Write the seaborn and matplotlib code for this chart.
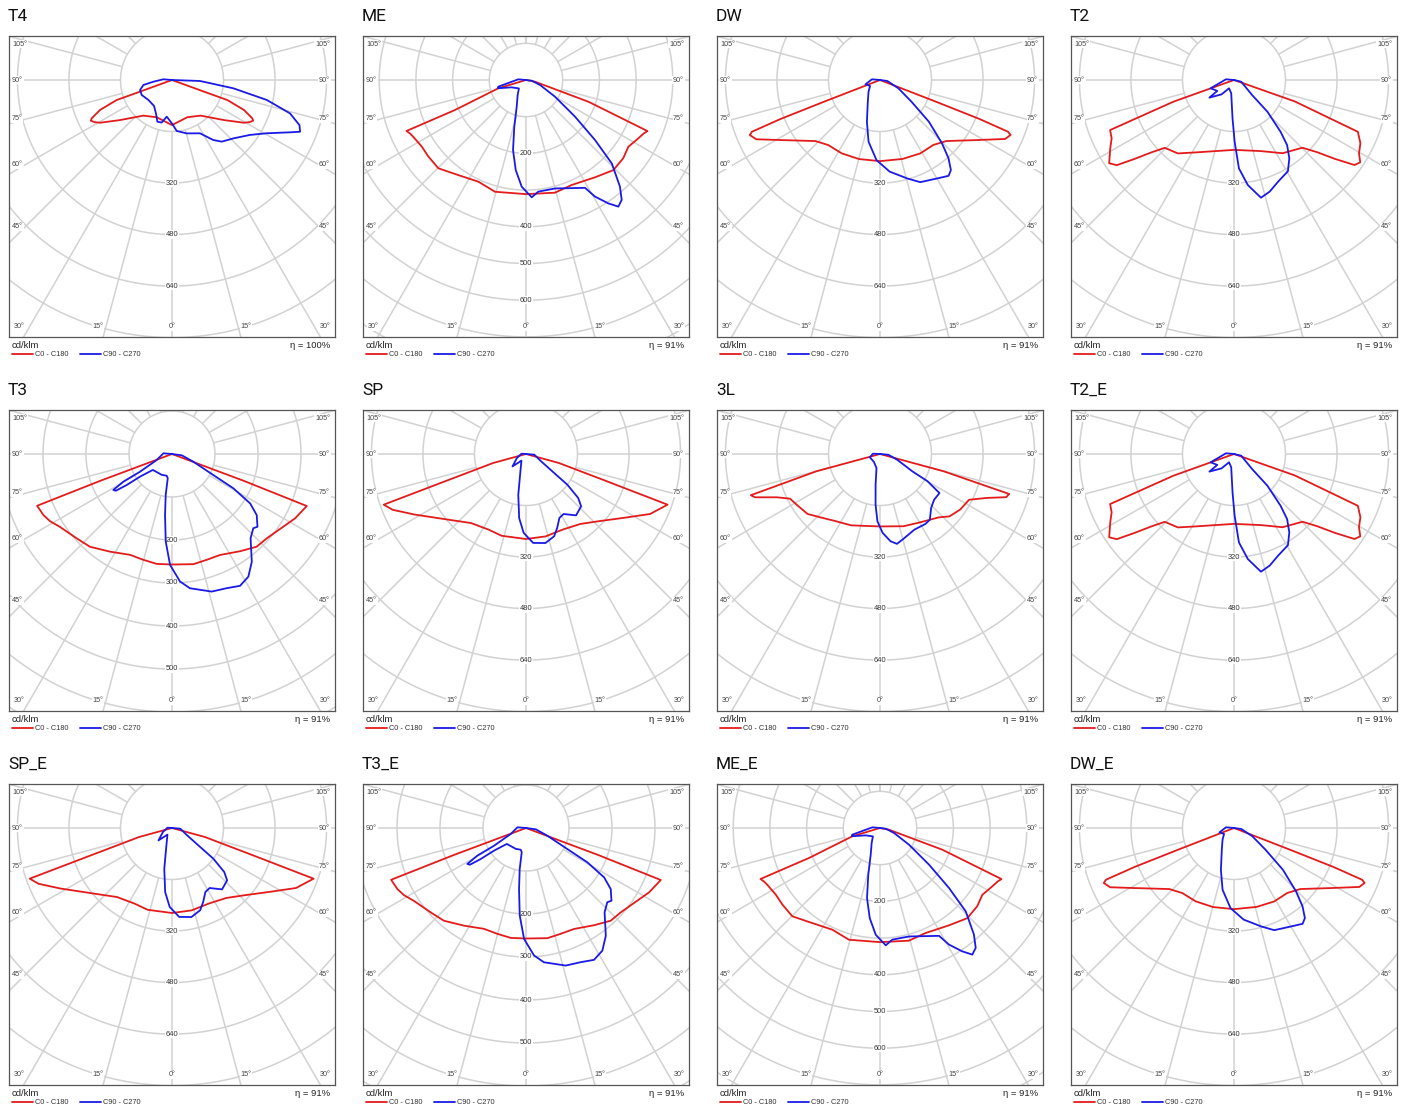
import numpy as np
import pandas as pd
import matplotlib
matplotlib.use("Agg")
import matplotlib.pyplot as plt
from matplotlib.lines import Line2D
import seaborn as sns

sns.set_style("white")
plt.rcParams['font.family'] = ['Liberation Sans', 'DejaVu Sans']

# ---- photometric data: gamma angle (deg, negative = left side) and cd/klm ----
# T4
t4_red_g = [-90, -70.0, -70.1, -67.4, -64.5, -63.4, -61.5, -59.3, -52.4, -38.8, -22.3, 0, 22.3, 38.8, 52.4, 59.3,
            61.5, 63.4, 64.5, 67.4, 70.1, 70.0, 90]
t4_red_i = [0, 106, 183, 242, 276, 282, 274, 260, 204, 142, 125, 140, 125, 142, 204, 260, 274, 282, 276, 242, 183,
            106, 0]
t4_blue_g = [90, 88, 82.3, 78.1, 74.2, 70.5, 68.0, 66.1, 60.6, 54.8, 46.4, 38.9, 34.5, 27.7, 15.4, 5.3, 0, -8.2,
             -13.6, -19.4, -25.7, -34.7, -49.8, -63.7, -72.6, -80.1, -84.8, -94.6, -95]
t4_blue_i = [0, 87, 192, 301, 381, 420, 429, 401, 337, 296, 263, 246, 226, 187, 172, 159, 135, 115,
             136, 137, 115, 98, 96, 105, 104, 90, 58, 27, 0]

# ME / ME_E
me_red_g = [-90, -73.3, -67.1, -66.9, -65.2, -63.3, -57.4, -51.9, -44.8, -37.1, -25.1, -15.5, 0, 14.4, 23.5, 35.3,
            44.1, 51.2, 56.9, 62.6, 65.5, 67.2, 70.8, 79.3, 90]
me_red_i = [0, 79, 210, 354, 348, 344, 337, 338, 339, 321, 306, 316, 311, 317, 312, 325, 342, 340, 333, 345, 352,
            359, 180, 25, 0]
me_blue_g = [-90, -95, -76.4, -73.7, -62.9, -40.1, -29, -19.2, -14.1, -10.5, -6.5, -2.3, 2.8, 6.3, 15, 28.7, 30.6,
             33.7, 36.1, 38.6, 41.4, 45.8, 49, 53.2, 60.1, 70.3, 83, 90]
me_blue_i = [0, 21, 78, 80, 44, 30, 47, 77, 131, 194, 247, 291, 320, 306, 306, 335, 369, 404, 427, 418, 387, 326,
             249, 167, 91, 41, 16, 0]

# DW / DW_E
dw_red_g = [-90, -68.8, -68.6, -68, -67.1, -64.4, -58.9, -46.6, -38.4, -27.6, -14.9, 0, 16, 28.7, 39.4, 47.4, 58.2,
            64.8, 67.2, 68, 68.6, 68.8, 90]
dw_red_i = [0, 186, 332, 429, 439, 426, 361, 276, 258, 257, 254, 252, 255, 260, 261, 280, 354, 430, 440, 429, 332, 186, 0]
dw_blue_g = [-90, -95, -73.4, -59, -44.3, -29.4, -17.4, -10.5, -2.5, 6, 15.4, 21.5, 30.4, 35.6, 38.2, 41.2, 44.4,
             49.5, 55.4, 65.6, 82.3, 90]
dw_blue_i = [0, 25, 47, 36, 51, 77, 136, 195, 249, 286, 317, 341, 354, 366, 356, 323, 275, 200, 119, 63, 23, 0]

# T2 / T2_E
t2_red_g = [-90, -70.3, -68, -64.5, -61.1, -56.3, -54, -51.6, -48.7, -45.6, -37.4, -28.1, 0, 20.7, 33.6, 45.3, 49.1,
            52, 54.8, 56.9, 59.6, 63.4, 67.3, 70.6, 90]
t2_red_i = [0, 200, 415, 421, 439, 466, 450, 395, 340, 301, 287, 255, 217, 236, 273, 299, 343, 398, 458, 468, 450,
            439, 417, 200, 0]
t2_blue_g = [-90, -95, -70.5, -56.8, -54.4, -40.9, -31, -11.9, -2.2, 0.6, 3.2, 7.5, 12.9, 17.7, 23.5, 30.6, 35.2,
             39.2, 42, 46.5, 50.3, 76.7, 90]
t2_blue_i = [0, 25, 77, 62, 94, 59, 30, 42, 119, 192, 275, 329, 375, 364, 344, 329, 298, 261, 216, 143, 73, 23, 0]

# T3 / T3_E
t3_red_g = [-90, -69.5, -69, -64.6, -61.2, -57, -48.5, -41.5, -32.4, -22.6, -15.1, -7.9, 0, 11, 18.1, 25.4, 35,
            42.4, 48.3, 56.8, 62.4, 68.9, 69.5, 90]
t3_red_i = [0, 179, 336, 331, 324, 311, 296, 288, 269, 254, 255, 258, 257, 261, 259, 260, 276, 292, 295, 309, 323,
            336, 179, 0]
t3_blue_g = [-90, -94.6, -68.6, -61, -60.4, -58.5, -56.8, -55.6, -54.7, -50.3, -26.1, -13.7, -10, -8.7, -6.5, -4.1,
             -1, 3.6, 7.6, 16.1, 22.2, 27.3, 31.9, 36.5, 43, 47.6, 49.6, 54.2, 57.7, 60.8, 63, 70.1, 82.4, 90]
t3_blue_i = [0, 20, 38, 85, 130, 160, 156, 128, 91, 58, 54, 52, 57, 97, 143, 204, 258, 297, 315, 333, 337, 345,
             336, 312, 268, 256, 261, 243, 215, 163, 108, 53, 23, 0]

# SP / SP_E
sp_red_g = [-90, -74.7, -71.5, -70.4, -67.3, -61.5, -49.4, -38.5, -26.3, -16.6, 0, 13.3, 26, 37.8, 46.9, 56.9,
            64.2, 70.3, 71.5, 74.7, 90]
sp_red_i = [0, 106, 251, 469, 449, 394, 314, 274, 262, 265, 264, 263, 261, 275, 306, 363, 428, 467, 251, 106, 0]
sp_blue_g = [-90, -94, -66, -47.4, -34.5, -15.9, -10.7, -6.1, -1.7, 4.6, 12.3, 18.9, 22.9, 27.6, 32.1, 39.2, 46.5,
             49.9, 53.4, 56, 64.2, 85.3, 90]
sp_blue_i = [0, 14, 31, 57, 25, 67, 129, 200, 245, 277, 283, 270, 249, 224, 220, 246, 236, 212, 160, 106, 52, 26, 0]

# 3L
l3_red_g = [-90, -74.8, -72.3, -70.9, -67.2, -63.6, -58.7, -50.4, -43.2, -34.8, -22, 0, 18.1, 31.1, 42.7, 48.1,
            55.3, 62.8, 67.6, 71.1, 72.8, 74.8, 90]
l3_red_i = [0, 205, 421, 411, 347, 312, 303, 292, 270, 252, 239, 225, 236, 247, 268, 290, 303, 311, 358, 414, 420,
            205, 0]
l3_blue_g = [-90, -92.5, -71.7, -37.3, -14, -8.2, -5, -2.2, 1.9, 6.9, 10.7, 15.6, 24.5, 33, 37.2, 43.4, 49.8, 56.7,
             60.2, 61.8, 64.5, 71.5, 85, 90]
l3_blue_i = [0, 22, 33, 31, 45, 96, 158, 209, 245, 273, 284, 273, 258, 259, 256, 231, 220, 221, 170, 114, 89, 56,
             26, 0]

shapes = {
    "T4": (t4_red_g, t4_red_i, t4_blue_g, t4_blue_i),
    "ME": (me_red_g, me_red_i, me_blue_g, me_blue_i),
    "DW": (dw_red_g, dw_red_i, dw_blue_g, dw_blue_i),
    "T2": (t2_red_g, t2_red_i, t2_blue_g, t2_blue_i),
    "T3": (t3_red_g, t3_red_i, t3_blue_g, t3_blue_i),
    "SP": (sp_red_g, sp_red_i, sp_blue_g, sp_blue_i),
    "3L": (l3_red_g, l3_red_i, l3_blue_g, l3_blue_i),
}

titles = ["T4", "ME", "DW", "T2", "T3", "SP", "3L", "T2_E", "SP_E", "T3_E", "ME_E", "DW_E"]
shape_of = ["T4", "ME", "DW", "T2", "T3", "SP", "3L", "T2", "SP", "T3", "ME", "DW"]
ring_step = [160, 100, 160, 160, 100, 160, 160, 160, 160, 100, 100, 160]
ring_labels = [[320, 480, 640], [200, 400, 500, 600], [320, 480, 640], [320, 480, 640],
               [200, 300, 400, 500], [320, 480, 640], [320, 480, 640], [320, 480, 640],
               [320, 480, 640], [200, 300, 400, 500], [200, 400, 500, 600], [320, 480, 640]]
eta = ["100%"] + ["91%"] * 11
side_angles = [105, 90, 75, 60, 45]

# ---- layout (pixels) ----
W, H = 1405, 1108
BOX_W, BOX_H = 326, 301
CY = 44  # center below box top
SIDE_DY = {105: -36, 90: 0, 75: 39, 60: 85, 45: 147}
RED = '#e31b1b'
BLUE = '#1a1ae6'
GRID = '#d2d2d2'

fig = plt.figure(figsize=(W / 100, H / 100), dpi=100)


def fx(x):
    return x / W


def fy(y):
    return 1 - y / H


for idx, title in enumerate(titles):
    row, col = divmod(idx, 4)
    bx = 9 + col * 354
    by = 36 + row * 374
    step = ring_step[idx]
    if shape_of[idx] == "T3":
        s = 0.43
    elif step == 100:
        s = 0.367
    else:
        s = 0.322

    ax = fig.add_axes([fx(bx), fy(by + BOX_H), BOX_W / W, BOX_H / H])
    ax.set_xlim(-(BOX_W / 2) / s, (BOX_W / 2) / s)
    ax.set_ylim(-(BOX_H - CY) / s, CY / s)

    # grid rings
    t = np.linspace(0, 2 * np.pi, 400)
    for k in range(1, 16):
        r = k * step
        ax.plot(r * np.sin(t), r * np.cos(t), color=GRID, lw=1.1, zorder=1)
    # radial lines
    for a in range(-180, 181, 15):
        ar = np.radians(a)
        r0, r1 = step, 20 * step
        ax.plot([r0 * np.sin(ar), r1 * np.sin(ar)], [-r0 * np.cos(ar), -r1 * np.cos(ar)],
                color=GRID, lw=1.1, zorder=1)

    # curves
    rg, ri, bg, bi = shapes[shape_of[idx]]
    for g, i, c in [(rg, ri, RED), (bg, bi, BLUE)]:
        g = np.radians(np.array(g, dtype=float))
        i = np.array(i, dtype=float)
        df = pd.DataFrame({"x": i * np.sin(g), "y": -i * np.cos(g)})
        sns.lineplot(data=df, x="x", y="y", sort=False, estimator=None, color=c, lw=1.3, ax=ax, zorder=5)
    for ln in ax.get_lines()[-2:]:
        ln.set_solid_joinstyle('round')

    # ring value labels
    for v in ring_labels[idx]:
        ax.text(0, -v, str(v), ha='center', va='center', fontsize=5.4, color='#333333', zorder=3,
                bbox=dict(facecolor='white', edgecolor='none', pad=0.5))

    # angle labels on sides
    lbl_kw = dict(fontsize=5.2, color='#444444', va='center', zorder=3,
                  bbox=dict(facecolor='white', edgecolor='none', pad=0.4))
    for a in side_angles:
        yy = -SIDE_DY[a] / s
        ax.text(-(BOX_W / 2 - 3) / s, yy, f"{a}°", ha='left', **lbl_kw)
        ax.text((BOX_W / 2 - 5) / s, yy, f"{a}°", ha='right', **lbl_kw)
    # angle labels at bottom
    yb = -(BOX_H - CY - 10) / s
    for a, dx in [(30, 153), (15, 74)]:
        ax.text(-dx / s, yb, f"{a}°", ha='center', **lbl_kw)
        ax.text(dx / s, yb, f"{a}°", ha='center', **lbl_kw)
    ax.text(0, yb, "0°", ha='center', **lbl_kw)

    ax.set_xlabel("")
    ax.set_ylabel("")
    ax.set_xticks([])
    ax.set_yticks([])
    for sp in ax.spines.values():
        sp.set_visible(True)
        sp.set_color('#555555')
        sp.set_linewidth(0.9)

    # title
    fig.text(fx(bx - 1), fy(by - 15), title, ha='left', va='baseline', fontsize=12.5,
             family=['Roboto', 'DejaVu Sans'], color='#111111')

    # footer
    fig.text(fx(bx + 3), fy(by + BOX_H + 8.5), "cd/klm", ha='left', va='center', fontsize=6.8, color='#222222')
    fig.text(fx(bx + BOX_W - 5), fy(by + BOX_H + 8.5), f"η = {eta[idx]}", ha='right', va='center',
             fontsize=6.8, color='#222222')
    ly = by + BOX_H + 17
    fig.add_artist(Line2D([fx(bx + 3), fx(bx + 24)], [fy(ly), fy(ly)], color=RED, lw=1.3,
                          transform=fig.transFigure))
    fig.text(fx(bx + 26), fy(ly), "C0 - C180", ha='left', va='center', fontsize=5.3, color='#333333')
    fig.add_artist(Line2D([fx(bx + 71), fx(bx + 92)], [fy(ly), fy(ly)], color=BLUE, lw=1.3,
                          transform=fig.transFigure))
    fig.text(fx(bx + 94), fy(ly), "C90 - C270", ha='left', va='center', fontsize=5.3, color='#333333')

fig.savefig("out.png", dpi=100, facecolor='white')
